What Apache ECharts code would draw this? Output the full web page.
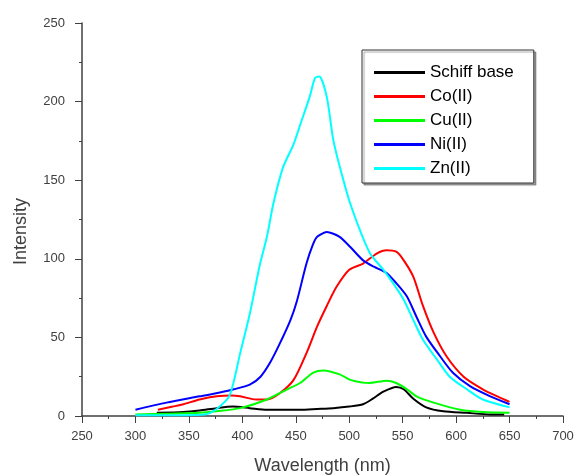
<!DOCTYPE html>
<html>
<head>
<meta charset="utf-8">
<script src="https://cdn.jsdelivr.net/npm/echarts@6/dist/echarts.min.js"></script>
<style>
  html, body { margin: 0; padding: 0; background: #fff; }
  #chart { width: 576px; height: 475px; }
</style>
</head>
<body>
<div id="chart"></div>
<script>
// wavelength (nm), intensity pairs
const schiffBase = [[320,2],[345,2.5],[360,3.5],[376,5],[391,6],[407,5],[423,4],[440,4],[454,4],[470,4.5],[485,5],[500,6],[513,7.5],[522,11],[532,15.5],[544,18.5],[551,17],[560,11],[572,5.5],[588,3],[610,2],[632,1],[645,1]];
const coII = [[321,4],[335,6],[345,7.5],[360,10.5],[376,12.5],[390,13],[398,12.5],[413,10.5],[423,10.5],[435,14.5],[448,23],[460,40],[470,57],[479,70],[488,82],[500,93],[513,97],[526,103.5],[535,105.5],[544,104.5],[551,99],[560,88.5],[569,70],[579,53],[591,38],[607,25],[625,17],[640,12],[650,9]];
const cuII = [[300,1],[330,1.5],[360,2],[376,3],[398,5],[423,10.5],[442,17],[454,21],[466,27.5],[476,29],[491,26.5],[501,23],[519,21],[535,22.5],[544,21],[554,17],[563,12.5],[579,8.5],[604,4],[625,2.5],[650,2]];
const niII = [[300,4],[329,8.5],[360,12.5],[379,15],[392,17],[407,20],[417,25],[426,34],[435,46],[445,61],[451,73],[460,97],[466,109],[470,114],[479,117],[491,114],[501,107.5],[513,99],[523,95],[535,91],[544,84.5],[554,76],[563,63],[572,50.5],[585,38],[597,27.5],[613,19],[632,12.5],[650,7.5]];
const znII = [[300,0.5],[340,0.5],[365,1],[375,4],[388,13],[398,40],[407,65],[416,95],[423,114],[429,135],[438,158],[448,173],[455,187],[463,203],[468,215],[472,216],[479,203],[485,176],[491,159],[501,135],[519,104],[532,93],[541,84.5],[551,74],[560,61],[569,48.5],[582,36],[594,25],[610,17],[625,10.5],[650,5.5]];

const seriesNames = ['Schiff base', 'Co(II)', 'Cu(II)', 'Ni(II)', 'Zn(II)'];
const seriesData = [schiffBase, coII, cuII, niII, znII];
const seriesColors = ['#000000', '#ff0000', '#00ff00', '#0000ff', '#00ffff'];

const axisColor = '#404040';
const font = 'Liberation Sans, Arial, sans-serif';

const chart = echarts.init(document.getElementById('chart'));
chart.setOption({
  animation: false,
  backgroundColor: '#fff',
  grid: { left: 82, right: 13, top: 23, bottom: 59, containLabel: false, outerBoundsMode: 'none' },
  legend: {
    orient: 'vertical',
    left: 362,
    top: 50,
    icon: 'rect',
    itemWidth: 51,
    itemHeight: 3,
    itemGap: 7,
    padding: [14, 20, 6, 12],
    borderColor: '#333',
    borderWidth: 1,
    backgroundColor: '#fff',
    shadowColor: 'rgba(0,0,0,0.35)',
    shadowOffsetX: 2,
    shadowOffsetY: 2,
    shadowBlur: 1,
    textStyle: { fontFamily: font, fontSize: 17, color: '#000', lineHeight: 16 },
    data: seriesNames
  },
  xAxis: {
    type: 'value',
    min: 250,
    max: 700,
    interval: 50,
    name: 'Wavelength (nm)',
    nameLocation: 'middle',
    nameGap: 41,
    nameTextStyle: { fontFamily: font, fontSize: 18, color: axisColor },
    axisLine: { show: true, lineStyle: { color: axisColor, width: 1.5 } },
    axisTick: { show: true, length: 7, lineStyle: { color: axisColor } },
    minorTick: { show: true, splitNumber: 2, length: 3, lineStyle: { color: axisColor } },
    axisLabel: { fontFamily: font, fontSize: 13, color: axisColor, margin: 14 },
    splitLine: { show: false }
  },
  yAxis: {
    type: 'value',
    min: 0,
    max: 250,
    interval: 50,
    name: 'Intensity',
    nameLocation: 'middle',
    nameGap: 52,
    nameTextStyle: { fontFamily: font, fontSize: 18, color: axisColor, padding: [0, 24, 0, 0] },
    axisLine: { show: true, lineStyle: { color: axisColor, width: 1.5 } },
    axisTick: { show: true, length: 7, lineStyle: { color: axisColor } },
    minorTick: { show: true, splitNumber: 2, length: 3, lineStyle: { color: axisColor } },
    axisLabel: { fontFamily: font, fontSize: 13, color: axisColor, margin: 17 },
    splitLine: { show: false }
  },
  series: seriesNames.map((name, i) => ({
    name: name,
    type: 'line',
    data: seriesData[i],
    smooth: 0.25,
    showSymbol: false,
    symbol: 'none',
    color: seriesColors[i],
    lineStyle: { color: seriesColors[i], width: 2 }
  }))
});
</script>
</body>
</html>
